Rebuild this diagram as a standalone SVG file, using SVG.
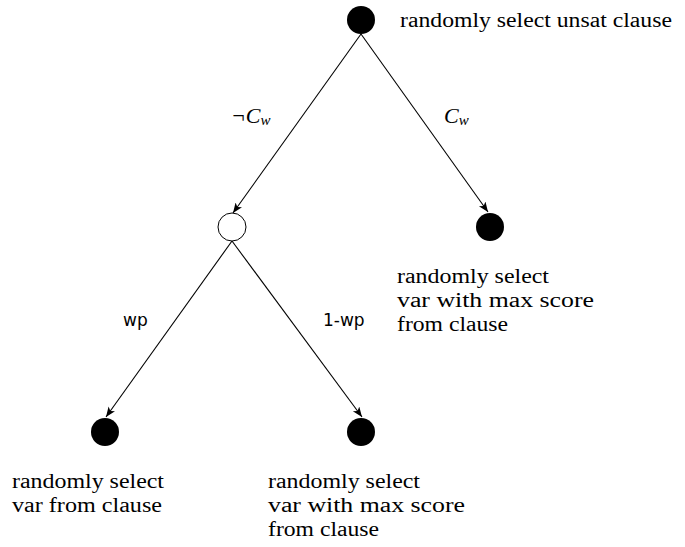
<svg xmlns="http://www.w3.org/2000/svg" width="685" height="547" viewBox="0 0 685 547">
<style>
.t{font-family:"Liberation Serif","DejaVu Serif",serif;font-size:20px;fill:#000}
.m{font-family:"Liberation Serif",serif;font-style:italic;font-size:22px;fill:#000}
.s{font-family:"DejaVu Sans","Liberation Sans",sans-serif;font-size:17px;fill:#000}
.e{stroke:#000;stroke-width:1.1;fill:none;marker-end:url(#a)}
</style>
<defs>
<marker id="a" markerWidth="12" markerHeight="10" refX="10" refY="4" orient="auto" markerUnits="userSpaceOnUse">
<path d="M0,0 L10,4 L0,8 L2.5,4 Z" fill="#000"/>
</marker>
</defs>
<rect width="685" height="547" fill="#fff"/>
<g id="connectors">
<line class="e" x1="361" y1="34" x2="233" y2="213"/>
<line class="e" x1="361" y1="34" x2="488" y2="212"/>
<line class="e" x1="232" y1="241" x2="106" y2="417"/>
<line class="e" x1="232" y1="241" x2="362" y2="417"/>
<text class="m" x="231" y="123">¬C<tspan font-size="15" dy="2">w</tspan></text>
<text class="m" x="444" y="123">C<tspan font-size="15" dy="2">w</tspan></text>
<text class="s" x="123" y="326">wp</text>
<text class="s" x="323" y="326">1-wp</text>
</g>
<g id="n0">
<circle cx="361" cy="20" r="14" fill="#000"/>
<text class="t" x="400" y="27" textLength="272" lengthAdjust="spacingAndGlyphs">randomly select unsat clause</text>
</g>
<g id="n1">
<circle cx="232" cy="227" r="14" fill="#fff" stroke="#000" stroke-width="1"/>
</g>
<g id="n2">
<circle cx="490" cy="227" r="14" fill="#000"/>
<text class="t" x="397" y="283" textLength="152" lengthAdjust="spacingAndGlyphs">randomly select</text>
<text class="t" x="397" y="307" textLength="197" lengthAdjust="spacingAndGlyphs">var with max score</text>
<text class="t" x="397" y="331" textLength="111" lengthAdjust="spacingAndGlyphs">from clause</text>
</g>
<g id="n3">
<circle cx="105" cy="432" r="14" fill="#000"/>
<text class="t" x="12" y="488" textLength="152" lengthAdjust="spacingAndGlyphs">randomly select</text>
<text class="t" x="12" y="512" textLength="150" lengthAdjust="spacingAndGlyphs">var from clause</text>
</g>
<g id="n4">
<circle cx="361" cy="432" r="14" fill="#000"/>
<text class="t" x="268" y="488" textLength="152" lengthAdjust="spacingAndGlyphs">randomly select</text>
<text class="t" x="268" y="512" textLength="197" lengthAdjust="spacingAndGlyphs">var with max score</text>
<text class="t" x="268" y="536" textLength="111" lengthAdjust="spacingAndGlyphs">from clause</text>
</g>
</svg>
